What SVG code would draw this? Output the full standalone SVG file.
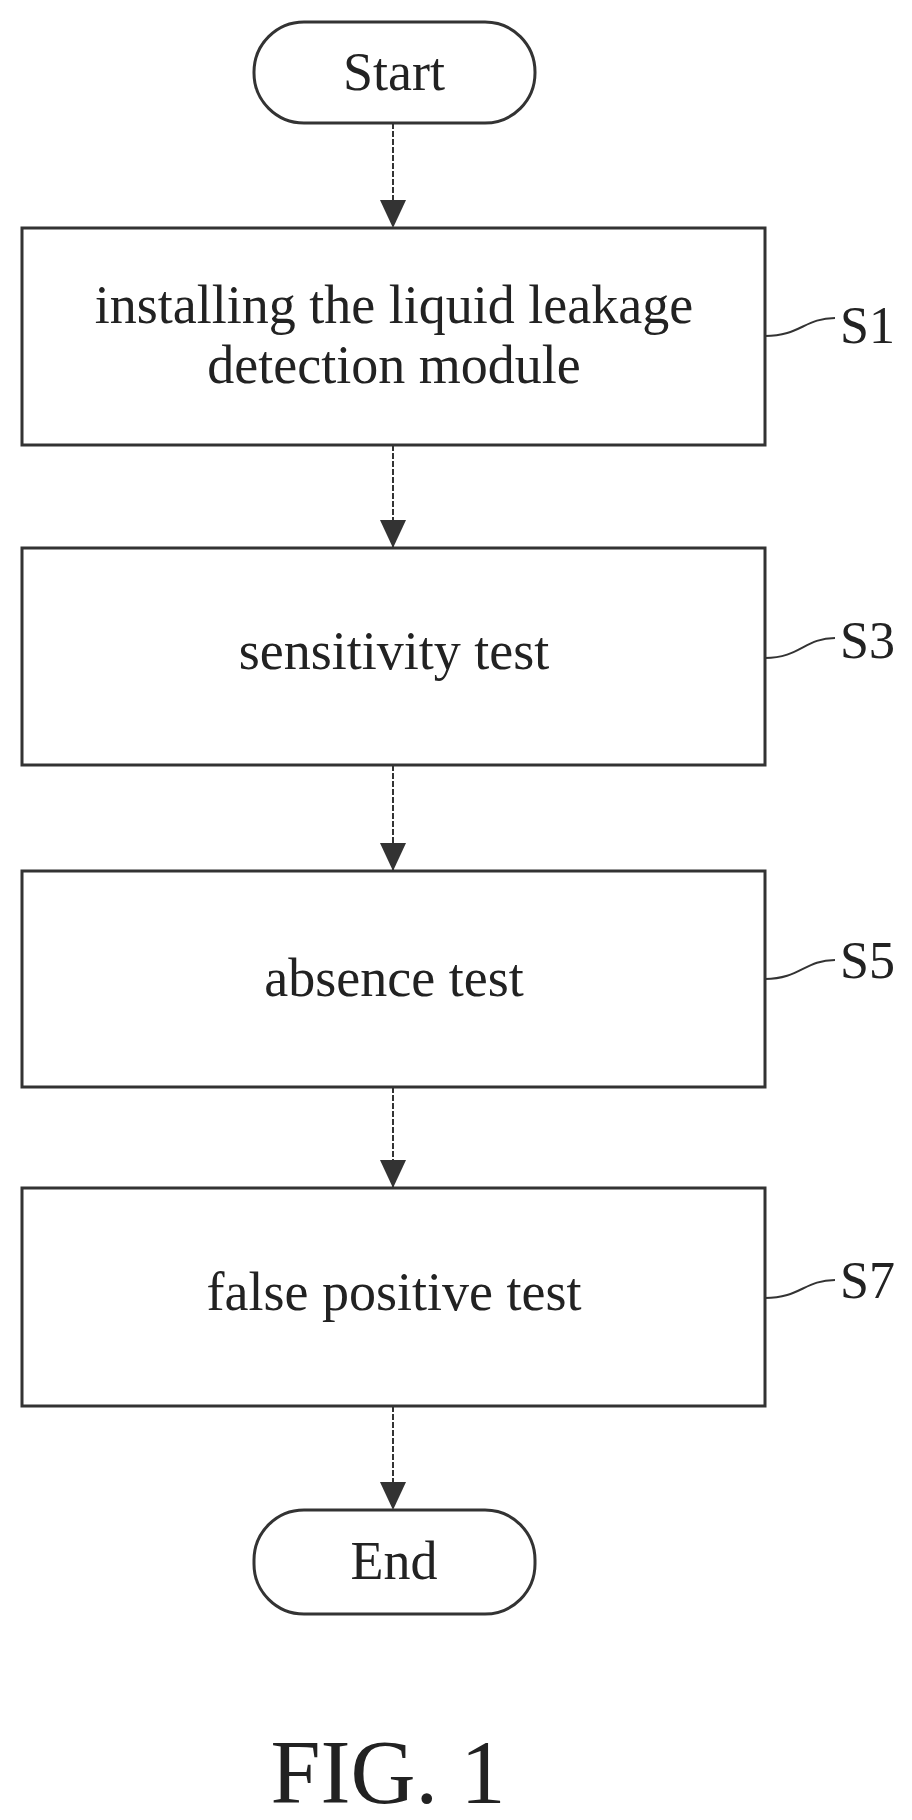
<svg xmlns="http://www.w3.org/2000/svg" width="912" height="1820" viewBox="0 0 912 1820">
<style>
.box{fill:#fff;stroke:#333;stroke-width:3}
.t{font-family:"Liberation Serif",serif;font-size:54px;fill:#222;text-anchor:middle}
.lbl{font-family:"Liberation Serif",serif;font-size:52px;fill:#222}
.c{stroke:#333;stroke-width:2;fill:none;stroke-dasharray:6 2}
.lead{stroke:#333;stroke-width:2;fill:none}
</style>
<defs>
<marker id="ah" markerWidth="28" markerHeight="26" refX="28" refY="13" orient="auto" markerUnits="userSpaceOnUse" viewBox="0 0 28 26">
<path d="M0,0 L28,13 L0,26 Z" fill="#333"/>
</marker>
</defs>
<g id="connectors">
<line class="c" x1="393" y1="123" x2="393" y2="228" marker-end="url(#ah)"/>
<line class="c" x1="393" y1="445" x2="393" y2="548" marker-end="url(#ah)"/>
<line class="c" x1="393" y1="765" x2="393" y2="871" marker-end="url(#ah)"/>
<line class="c" x1="393" y1="1087" x2="393" y2="1188" marker-end="url(#ah)"/>
<line class="c" x1="393" y1="1406" x2="393" y2="1510" marker-end="url(#ah)"/>
</g>
<g id="start"><rect class="box" x="254" y="22" width="281" height="101" rx="50"/><text class="t" x="394" y="90">Start</text></g>
<g id="s1"><rect class="box" x="22" y="228" width="743" height="217"/><text class="t" x="394" y="323">installing the liquid leakage</text><text class="t" x="394" y="383">detection module</text>
<path class="lead" d="M765,336 C800,336 805,318 835,318"/><text class="lbl" x="840" y="343">S1</text></g>
<g id="s3"><rect class="box" x="22" y="548" width="743" height="217"/><text class="t" x="394" y="669">sensitivity test</text>
<path class="lead" d="M765,658 C800,658 805,638 835,638"/><text class="lbl" x="840" y="658">S3</text></g>
<g id="s5"><rect class="box" x="22" y="871" width="743" height="216"/><text class="t" x="394" y="996">absence test</text>
<path class="lead" d="M765,979 C800,979 805,960 835,960"/><text class="lbl" x="840" y="978">S5</text></g>
<g id="s7"><rect class="box" x="22" y="1188" width="743" height="218"/><text class="t" x="394" y="1310">false positive test</text>
<path class="lead" d="M765,1298 C800,1298 805,1280 835,1280"/><text class="lbl" x="840" y="1298">S7</text></g>
<g id="end"><rect class="box" x="254" y="1510" width="281" height="104" rx="50"/><text class="t" x="394" y="1579">End</text></g>
<text x="388" y="1803" font-family="Liberation Serif,serif" font-size="90" fill="#222" text-anchor="middle">FIG. 1</text>
</svg>
